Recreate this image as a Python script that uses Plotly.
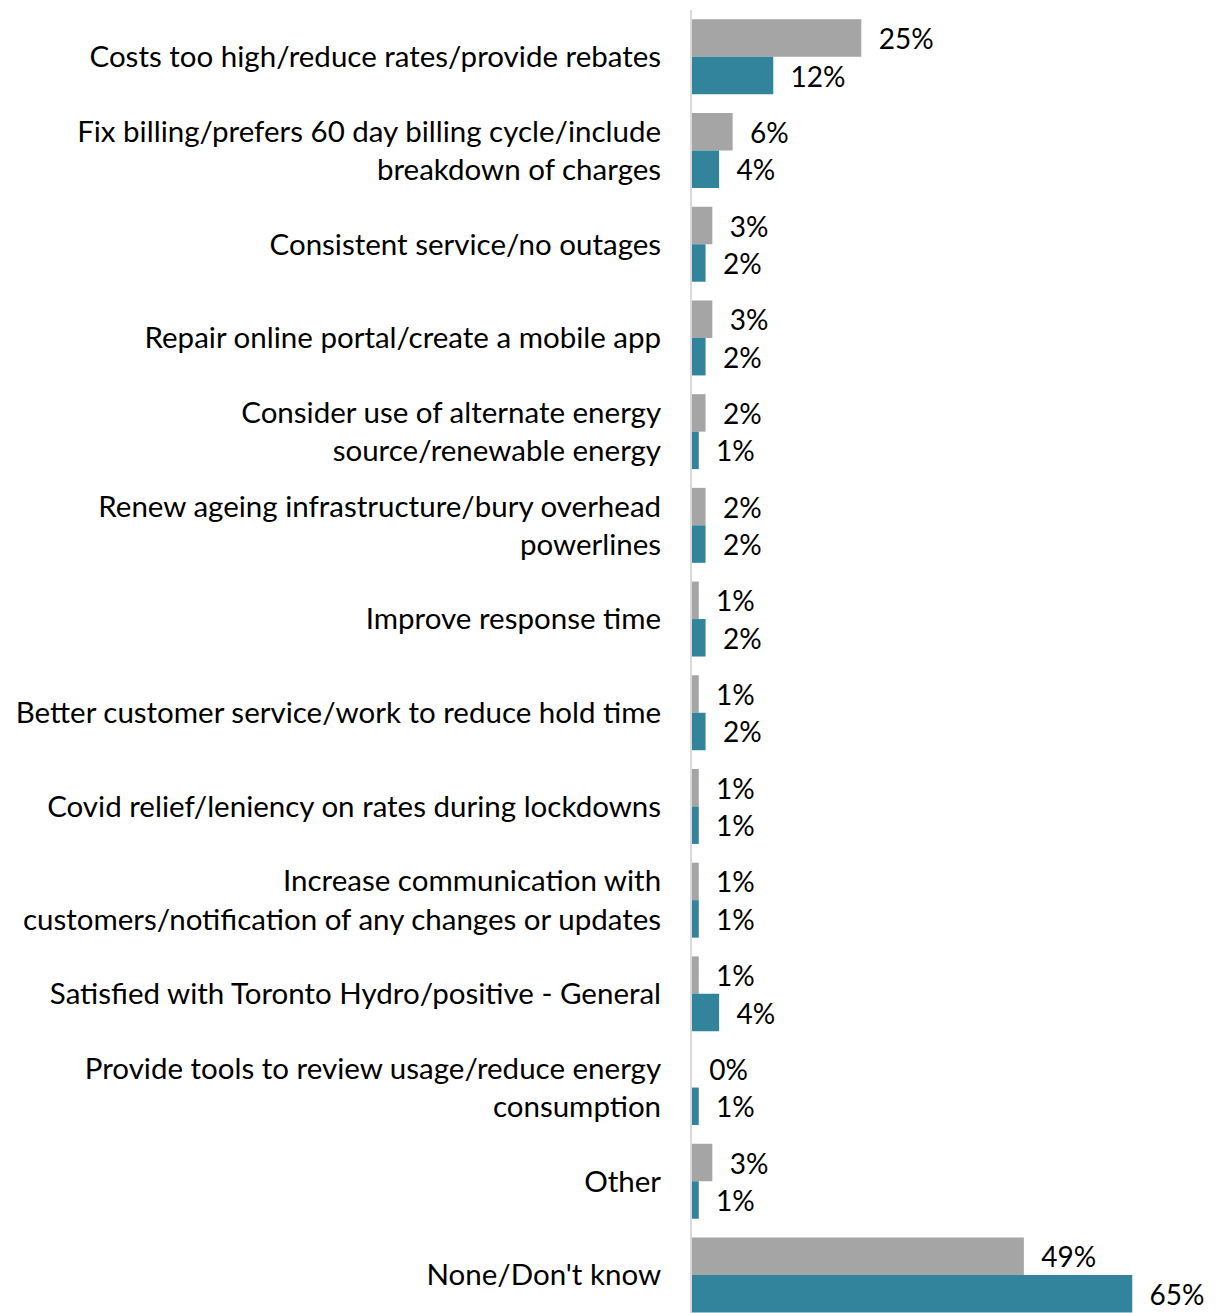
import plotly.graph_objects as go

# Survey responses: suggested improvements, two response waves
categories = [
    "Costs too high/reduce rates/provide rebates",
    "Fix billing/prefers 60 day billing cycle/include<br>breakdown of charges",
    "Consistent service/no outages",
    "Repair online portal/create a mobile app",
    "Consider use of alternate energy<br>source/renewable energy",
    "Renew ageing infrastructure/bury overhead<br>powerlines",
    "Improve response time",
    "Better customer service/work to reduce hold time",
    "Covid relief/leniency on rates during lockdowns",
    "Increase communication with<br>customers/notification of any changes or updates",
    "Satisfied with Toronto Hydro/positive - General",
    "Provide tools to review usage/reduce energy<br>consumption",
    "Other",
    "None/Don't know",
]
wave_a = [25, 6, 3, 3, 2, 2, 1, 1, 1, 1, 1, 0, 3, 49]
wave_b = [12, 4, 2, 2, 1, 2, 2, 2, 1, 1, 4, 1, 1, 65]

GRAY = "#A5A5A5"
TEAL = "#31849B"
FONT = "Lato"
PAD = "\u00a0\u00a0"

fig = go.Figure()
for name, vals, color in [("Wave A", wave_a, GRAY), ("Wave B", wave_b, TEAL)]:
    fig.add_trace(go.Bar(
        y=categories,
        x=vals,
        orientation="h",
        name=name,
        marker=dict(color=color, line=dict(width=0)),
        text=[f"{PAD}{v}%" for v in vals],
        textposition="outside",
        textfont=dict(family=FONT, size=28, color="#000000"),
        cliponaxis=False,
        hoverinfo="skip",
    ))

fig.update_layout(
    width=1223,
    height=1313,
    margin=dict(l=692, r=0, t=10, b=0),
    paper_bgcolor="white",
    plot_bgcolor="white",
    barmode="group",
    bargap=0.2,
    bargroupgap=0,
    showlegend=False,
    font=dict(family=FONT, size=29.5, color="#000000"),
)
fig.update_xaxes(
    range=[0, 78.4],
    showgrid=False,
    zeroline=False,
    showticklabels=False,
    showline=False,
)
fig.update_yaxes(
    type="category",
    range=[13.406, -0.5],
    showgrid=False,
    zeroline=False,
    showline=True,
    linecolor="#D9D9D9",
    linewidth=2,
    ticks="",
    ticklabelstandoff=23,
    tickfont=dict(family=FONT, size=29.5, color="#000000"),
)

fig.write_html("out.html")
